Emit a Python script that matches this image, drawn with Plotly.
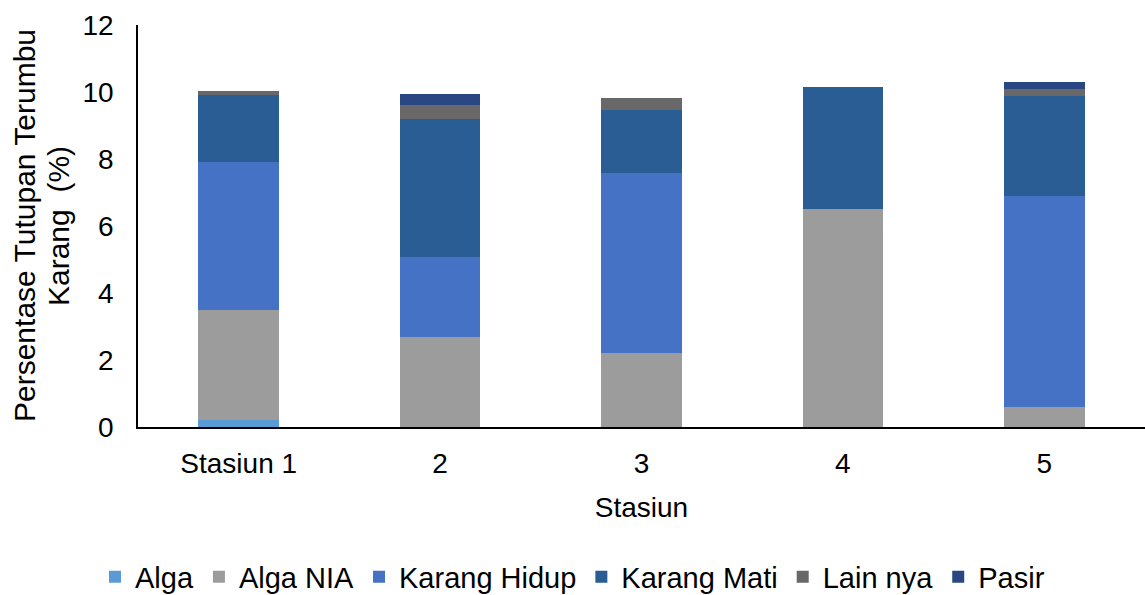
import plotly.graph_objects as go

categories = ["Stasiun 1", "2", "3", "4", "5"]
alga = [0.2, 0, 0, 0, 0]
alga_nia = [3.3, 2.7, 2.2, 6.5, 0.6]
karang_hidup = [4.4, 2.38, 5.37, 0, 6.3]
karang_mati = [2.0, 4.12, 1.88, 3.64, 2.98]
lain_nya = [0.12, 0.42, 0.36, 0, 0.21]
pasir = [0, 0.32, 0, 0, 0.21]

y_title_lines = ["Persentase Tutupan Terumbu", "Karang  (%)"]

series = [
    ("Alga", alga, "#5b9bd5"),
    ("Alga NIA", alga_nia, "#9c9c9c"),
    ("Karang Hidup", karang_hidup, "#4672c6"),
    ("Karang Mati", karang_mati, "#2a5d94"),
    ("Lain nya", lain_nya, "#686868"),
    ("Pasir", pasir, "#2a4783"),
]

fig = go.Figure()
for name, vals, color in series:
    fig.add_trace(go.Bar(x=categories, y=vals, name=name,
                         marker=dict(color=color, line=dict(width=0))))

FAM = "Liberation Sans, Arial, sans-serif"
tick_font = dict(family=FAM, size=28, color="#000000")
legend_font = dict(family=FAM, size=29, color="#000000")
title_font = dict(family=FAM, size=30, color="#000000")

L, R, T, B = 138, 0, 25, 168
W, H = 1145, 595
plot_w = W - L - R

annotations = []
for i, (line, px_center) in enumerate(zip(y_title_lines, [24, 58])):
    annotations.append(dict(
        text=line, textangle=-90, showarrow=False,
        xref="paper", yref="paper",
        x=(px_center - L) / plot_w, y=0.5,
        xanchor="center", yanchor="middle",
        font=title_font,
    ))

fig.update_layout(
    barmode="stack",
    bargap=0.6,
    width=W, height=H,
    margin=dict(l=L, r=R, t=T, b=B, autoexpand=False),
    paper_bgcolor="white", plot_bgcolor="white",
    font=tick_font,
    showlegend=True,
    legend=dict(orientation="h", xref="container", yref="container",
                x=0.5, xanchor="center", y=1 - 577 / H, yanchor="middle",
                font=legend_font, traceorder="normal", itemwidth=30),
    annotations=annotations,
    xaxis=dict(title=dict(text="Stasiun", font=tick_font, standoff=20),
               showline=True, linecolor="#000000", linewidth=2,
               showgrid=False, ticks="", tickfont=tick_font,
               ticklabelstandoff=10),
    yaxis=dict(range=[0, 12], dtick=2, showline=True, linecolor="#000000", linewidth=1.5,
               showgrid=False, zeroline=False, ticks="", tickfont=tick_font,
               ticklabelstandoff=17),
)
fig.write_html("out.html")
